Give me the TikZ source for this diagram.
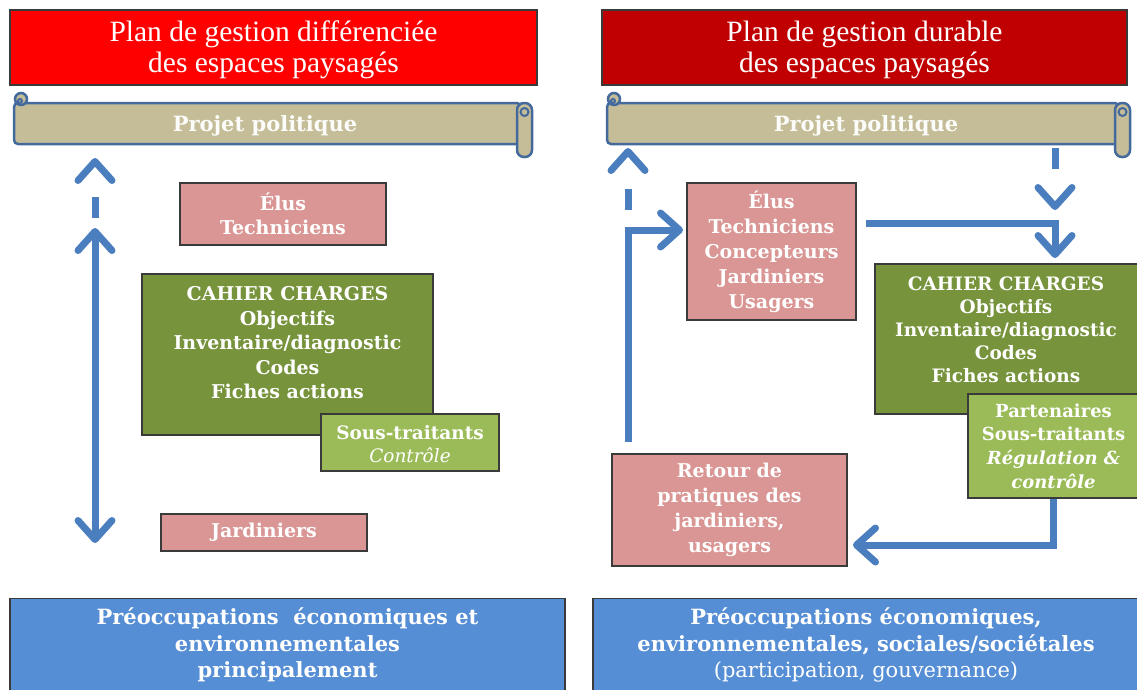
\documentclass[tikz,border=0pt]{standalone}
\usepackage{fontspec}
\setmainfont{DejaVu Serif}
\newfontfamily\titlefont{Liberation Serif}
\usetikzlibrary{arrows.meta}
\definecolor{redA}{HTML}{FF0000}
\definecolor{redB}{HTML}{C00000}
\definecolor{tan}{HTML}{C4BD97}
\definecolor{scrollline}{HTML}{44699D}
\definecolor{pinkbox}{HTML}{D99694}
\definecolor{greenA}{HTML}{77933C}
\definecolor{greenB}{HTML}{9BBB59}
\definecolor{bluebox}{HTML}{558ED5}
\definecolor{arrowblue}{HTML}{4A7EBF}
\definecolor{boxline}{HTML}{3A3A3A}
\tikzset{
  box/.style={draw=boxline, line width=1.2pt, inner sep=0pt, text=white, align=center},
  btxt/.style={text=white, align=center, inner sep=0pt, font=\bfseries\fontsize{19}{24.5}\selectfont},
  ttxt/.style={text=white, align=center, inner sep=0pt, font=\titlefont\fontsize{29.5}{31}\selectfont},
  ptxt/.style={text=white!95!tan, align=center, inner sep=0pt, font=\bfseries\fontsize{21}{24}\selectfont},
  tipv/.tip={Straight Barb[length=19pt,width=34pt,round]},
  arr/.style={draw=arrowblue, line width=7pt, -tipv},
  darr/.style={arr, dash pattern=on 21pt off 200pt},
  scrollpart/.style={fill=tan, draw=scrollline, line width=2.5pt}
}
\begin{document}
\begin{tikzpicture}[x=1pt,y=-1pt]
\useasboundingbox (0,0) rectangle (1137,689);
\fill[white] (0,0) rectangle (1137,689);

% titles
\node[box, fill=redA, minimum width=527pt, minimum height=75pt] (titleL) at (273.5,47.5) {};
\node[ttxt] (titleTxtL) at (273.5,50) {Plan de gestion différenciée\\des espaces paysagés};
\node[box, fill=redB, minimum width=525pt, minimum height=75pt] (titleR) at (864.5,47.5) {};
\node[ttxt] (titleTxtR) at (864.5,50) {Plan de gestion durable\\des espaces paysagés};

% scrolls
\foreach \ox/\w in {0/0, 593/5}{
  \begin{scope}[shift={(\ox,0)}]
    \filldraw[scrollpart, rounded corners=4pt] (14,103) rectangle (521+\w,144);
    \filldraw[scrollpart] (21,99) circle (6);
    \draw[draw=scrollline, line width=2pt] (20,101) circle (2);
    \filldraw[scrollpart, rounded corners=7pt] (517+\w,103) rectangle (532+\w,157);
    \draw[draw=scrollline, line width=2pt] (524.5+\w,112) circle (4);
  \end{scope}
}
\node[ptxt] (scrollL) at (265,126) {Projet politique};
\node[ptxt] (scrollR) at (866,126) {Projet politique};

% left side
\node[box, fill=pinkbox, minimum width=206pt, minimum height=62pt, btxt] (elusL) at (283,214) {Élus\\Techniciens};
\node[box, fill=greenA, minimum width=291pt, minimum height=161pt] (cahierBoxL) at (287.5,354.5) {};
\node[btxt] (cahierL) at (287.5,343) {CAHIER CHARGES\\Objectifs\\Inventaire/diagnostic\\Codes\\Fiches actions};
\node[box, fill=greenB, minimum width=178pt, minimum height=57pt] (sousL) at (410,442.5) {};
\node[btxt, font=\bfseries\fontsize{18.5}{23}\selectfont] (sousTxtL) at (410,444) {Sous-traitants\\{\mdseries\itshape Contrôle}};
\node[box, fill=pinkbox, minimum width=206pt, minimum height=37pt, btxt] (jardL) at (264,532.5) {Jardiniers};
\node[box, fill=bluebox, minimum width=555pt, minimum height=93pt, btxt, font=\bfseries\fontsize{21}{26.5}\selectfont] (botL) at (287.5,645) {Préoccupations\ \ économiques et\\environnementales\\principalement};

\coordinate (lA) at (95,218);
\coordinate (lB) at (95,158);
\coordinate (lC) at (95,228);
\coordinate (lD) at (95,543);
\draw[darr] (lA) -- (lB);
\draw[arr, tipv-tipv] (lC) -- (lD);

% right side
\node[box, fill=pinkbox, minimum width=169pt, minimum height=137pt, btxt, font=\bfseries\fontsize{19}{25}\selectfont] (elusR) at (771.5,251.5) {Élus\\Techniciens\\Concepteurs\\Jardiniers\\Usagers};
\node[box, fill=greenA, minimum width=264pt, minimum height=150pt] (cahierBoxR) at (1007,339) {};
\node[btxt, font=\bfseries\fontsize{18.5}{23}\selectfont] (cahierR) at (1006,329.5) {CAHIER CHARGES\\Objectifs\\Inventaire/diagnostic\\Codes\\Fiches actions};
\node[box, fill=greenB, minimum width=171pt, minimum height=104pt, btxt, font=\bfseries\fontsize{18}{23.7}\selectfont] (partR) at (1053.5,446) {Partenaires\\Sous-traitants\\{\itshape Régulation \&}\\{\itshape contrôle}};
\node[box, fill=pinkbox, minimum width=235pt, minimum height=112pt, btxt, font=\bfseries\fontsize{19}{25}\selectfont] (retourR) at (729.5,510) {Retour de\\pratiques des\\jardiniers,\\usagers};
\node[box, fill=bluebox, minimum width=546pt, minimum height=93pt, btxt, font=\bfseries\fontsize{21}{26.5}\selectfont] (botR) at (866,645) {Préoccupations économiques,\\environnementales, sociales/sociétales\\{\mdseries(participation, gouvernance)}};

\coordinate (rA) at (628,210);
\coordinate (rB) at (628,148);
\coordinate (rC) at (628,442);
\coordinate (rD) at (683,230);
\coordinate (rE) at (866,223);
\coordinate (rF) at (1055,258);
\coordinate (rG) at (1055,148);
\coordinate (rH) at (1055,210);
\coordinate (rI) at (853,545);
\draw[darr] (rA) -- (rB);
\draw[arr] (rC) |- (rD);
\draw[arr] (rE) -| (rF);
\draw[darr] (rG) -- (rH);
\draw[arr] (partR.south) |- (rI);
\end{tikzpicture}
\end{document}
